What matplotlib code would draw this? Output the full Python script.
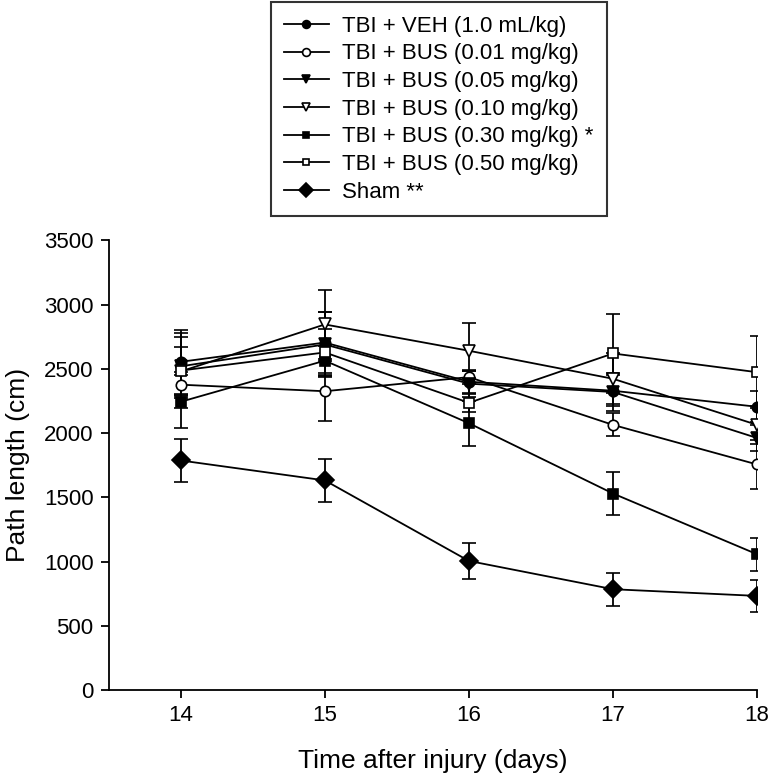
import matplotlib.pyplot as plt
from matplotlib.lines import Line2D

plt.rcParams['font.family'] = ['Liberation Sans', 'DejaVu Sans']

days = [14, 15, 16, 17, 18]

veh = [2555, 2705, 2400, 2330, 2205]
veh_err = [250, 240, 90, 120, 120]
bus001 = [2377, 2326, 2436, 2064, 1756]
bus001_err = [100, 235, 50, 90, 190]
bus005 = [2520, 2690, 2385, 2320, 1962]
bus005_err = [225, 250, 100, 150, 100]
bus010 = [2480, 2846, 2641, 2423, 2064]
bus010_err = [190, 270, 213, 200, 150]
bus030 = [2244, 2564, 2077, 1530, 1057]
bus030_err = [206, 115, 175, 165, 130]
bus050 = [2487, 2628, 2236, 2620, 2474]
bus050_err = [290, 180, 70, 310, 282]
sham = [1787, 1632, 1005, 785, 733]
sham_err = [170, 170, 143, 130, 125]

labels = ['TBI + VEH (1.0 mL/kg)', 'TBI + BUS (0.01 mg/kg)', 'TBI + BUS (0.05 mg/kg)',
          'TBI + BUS (0.10 mg/kg)', 'TBI + BUS (0.30 mg/kg) *', 'TBI + BUS (0.50 mg/kg)',
          'Sham **']

series = [
    (veh, veh_err, 'o', 'black', 7.5),
    (bus001, bus001_err, 'o', 'white', 7.5),
    (bus005, bus005_err, 'v', 'black', 8.5),
    (bus010, bus010_err, 'v', 'white', 8.5),
    (bus030, bus030_err, 's', 'black', 6.5),
    (bus050, bus050_err, 's', 'white', 6.5),
    (sham, sham_err, 'D', 'black', 9),
]

fig = plt.figure(figsize=(7.71, 7.78), dpi=100)
ax = fig.add_axes([0.141, 0.113, 0.841, 0.578])

handles = []
for (vals, err, mk, fc, ms), lab in zip(series, labels):
    ax.errorbar(days, vals, yerr=err, marker=mk, markerfacecolor=fc,
                markeredgecolor='black', markersize=ms, markeredgewidth=1.2,
                color='black', linewidth=1.3, elinewidth=1.3,
                capsize=5, capthick=1.3)
    handles.append(Line2D([], [], color='black', linewidth=1.3, marker=mk,
                          markerfacecolor=fc, markeredgecolor='black',
                          markeredgewidth=1.2, markersize=ms * 0.75))

ax.set_xlim(13.5, 18)
ax.set_ylim(0, 3500)
ax.set_xticks(days)
ax.set_yticks(range(0, 3501, 500))
ax.spines['top'].set_visible(False)
ax.spines['right'].set_visible(False)
ax.spines['left'].set_linewidth(1.3)
ax.spines['bottom'].set_linewidth(1.3)
ax.tick_params(direction='out', length=6, width=1.3, labelsize=16, pad=5)
ax.set_xlabel('Time after injury (days)', fontsize=19, labelpad=16)
ax.set_ylabel('Path length (cm)', fontsize=19, labelpad=10)

leg = fig.legend(handles=handles, labels=labels, loc='upper center',
                 bbox_to_anchor=(0.569, 0.997), fontsize=16, frameon=True,
                 fancybox=False, edgecolor='black', borderaxespad=0,
                 handlelength=2.0, handletextpad=0.6, labelspacing=0.3,
                 borderpad=0.6)
leg.get_frame().set_linewidth(1.5)

fig.savefig('out.png', dpi=100, facecolor='white')
